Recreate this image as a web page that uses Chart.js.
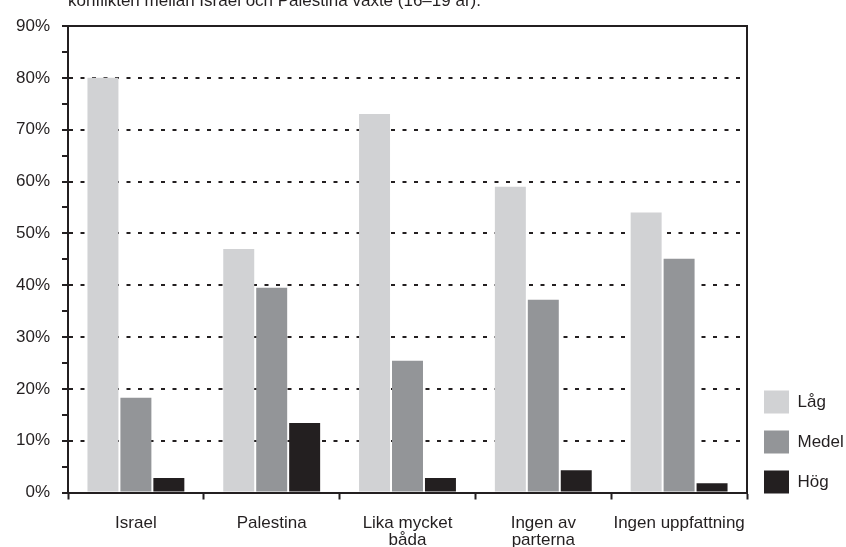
<!DOCTYPE html>
<html lang="sv">
  <head>
    <meta charset="UTF-8" />
    <title>Ansvar för konflikten</title>
    <script src="https://cdn.jsdelivr.net/npm/chart.js@4.4.0/dist/chart.umd.min.js"></script>
    <style>
      body { margin: 0; background: #fff; }
      #wrap { position: relative; width: 846px; height: 547px; overflow: hidden; }
      #caption {
        position: absolute; left: 68px; top: -8.5px;
        font: 17px/17px "Liberation Sans", Arial, sans-serif;
        color: #231f20; white-space: nowrap;
      }
    </style>
  </head>
  <body>
    <div id="wrap">
      <div id="caption">konflikten mellan Israel och Palestina växte (16–19 år).</div>
      <canvas id="chart"></canvas>
    </div>

  <script>
// categories (multi-line labels as arrays)
const categories = ['Israel', 'Palestina', ['Lika mycket', 'båda'], ['Ingen av', 'parterna'], 'Ingen uppfattning'];

// share of students (%) per group
const lag   = [80, 47, 73, 59, 54];
const medel = [18.3, 39.5, 25.4, 37.2, 45.1];
const hog   = [2.8, 13.4, 2.8, 4.3, 1.8];

const ink = '#231f20';
const font = { family: '"Liberation Sans", Arial, sans-serif', size: 17 };

// push the legend down so the last box sits on the x axis
const nudgeLegend = {
  id: 'nudgeLegend',
  afterLayout(chart) {
    chart.legend.top += 18;
    chart.legend.bottom += 18;
  }
};

const ctx = document.getElementById('chart').getContext('2d');
new Chart(ctx, {
  type: 'bar',
  data: {
    labels: categories,
    datasets: [
      { label: 'Låg',   data: lag,   backgroundColor: '#d1d2d4' },
      { label: 'Medel', data: medel, backgroundColor: '#939598' },
      { label: 'Hög',   data: hog,   backgroundColor: ink }
    ]
  },
  plugins: [nudgeLegend],
  options: {
    responsive: true,
    maintainAspectRatio: false,
    animation: false,
    layout: { padding: { top: 26, left: 0, right: 0, bottom: 0 } },
    datasets: {
      bar: { categoryPercentage: 0.728, barPercentage: 0.94, borderWidth: 0 }
    },
    plugins: {
      tooltip: { enabled: false },
      legend: {
        position: 'right',
        align: 'end',
        fullSize: false,
        maxWidth: 99,
        labels: {
          boxWidth: 25,
          boxHeight: 23,
          padding: 17,
          color: ink,
          font: font
        }
      }
    },
    scales: {
      x: {
        grid: {
          display: true,
          drawOnChartArea: false,
          offset: true,
          tickLength: 7,
          tickWidth: 2,
          tickColor: ink
        },
        border: { color: ink, width: 2 },
        ticks: {
          color: ink,
          padding: 15,
          maxRotation: 0,
          autoSkip: false,
          font: { family: font.family, size: 17, lineHeight: 1.0 }
        },
        afterFit: s => { s.height = 54.5; }
      },
      y: {
        min: 0,
        max: 90,
        grid: {
          color: c => (c.tick && c.tick.value > 0 && c.tick.value % 10 === 0) ? ink : 'transparent',
          lineWidth: 2,
          tickLength: 6,
          tickWidth: 2,
          tickColor: ink
        },
        border: {
          color: ink,
          width: 2,
          dash: c => (c.tick && c.tick.value === 90) ? [] : [4, 7.5]
        },
        ticks: {
          stepSize: 5,
          autoSkip: false,
          color: ink,
          padding: 12,
          font: font,
          callback: v => v % 10 === 0 ? v + '%' : ''
        },
        afterFit: s => { s.width = 68; }
      },
      y2: {
        position: 'right',
        min: 0,
        max: 90,
        grid: { display: false },
        ticks: { display: false },
        border: { display: true, color: ink, width: 2 },
        afterFit: s => { s.width = 0; }
      }
    }
  }
});
  </script>
  </body>
</html>
